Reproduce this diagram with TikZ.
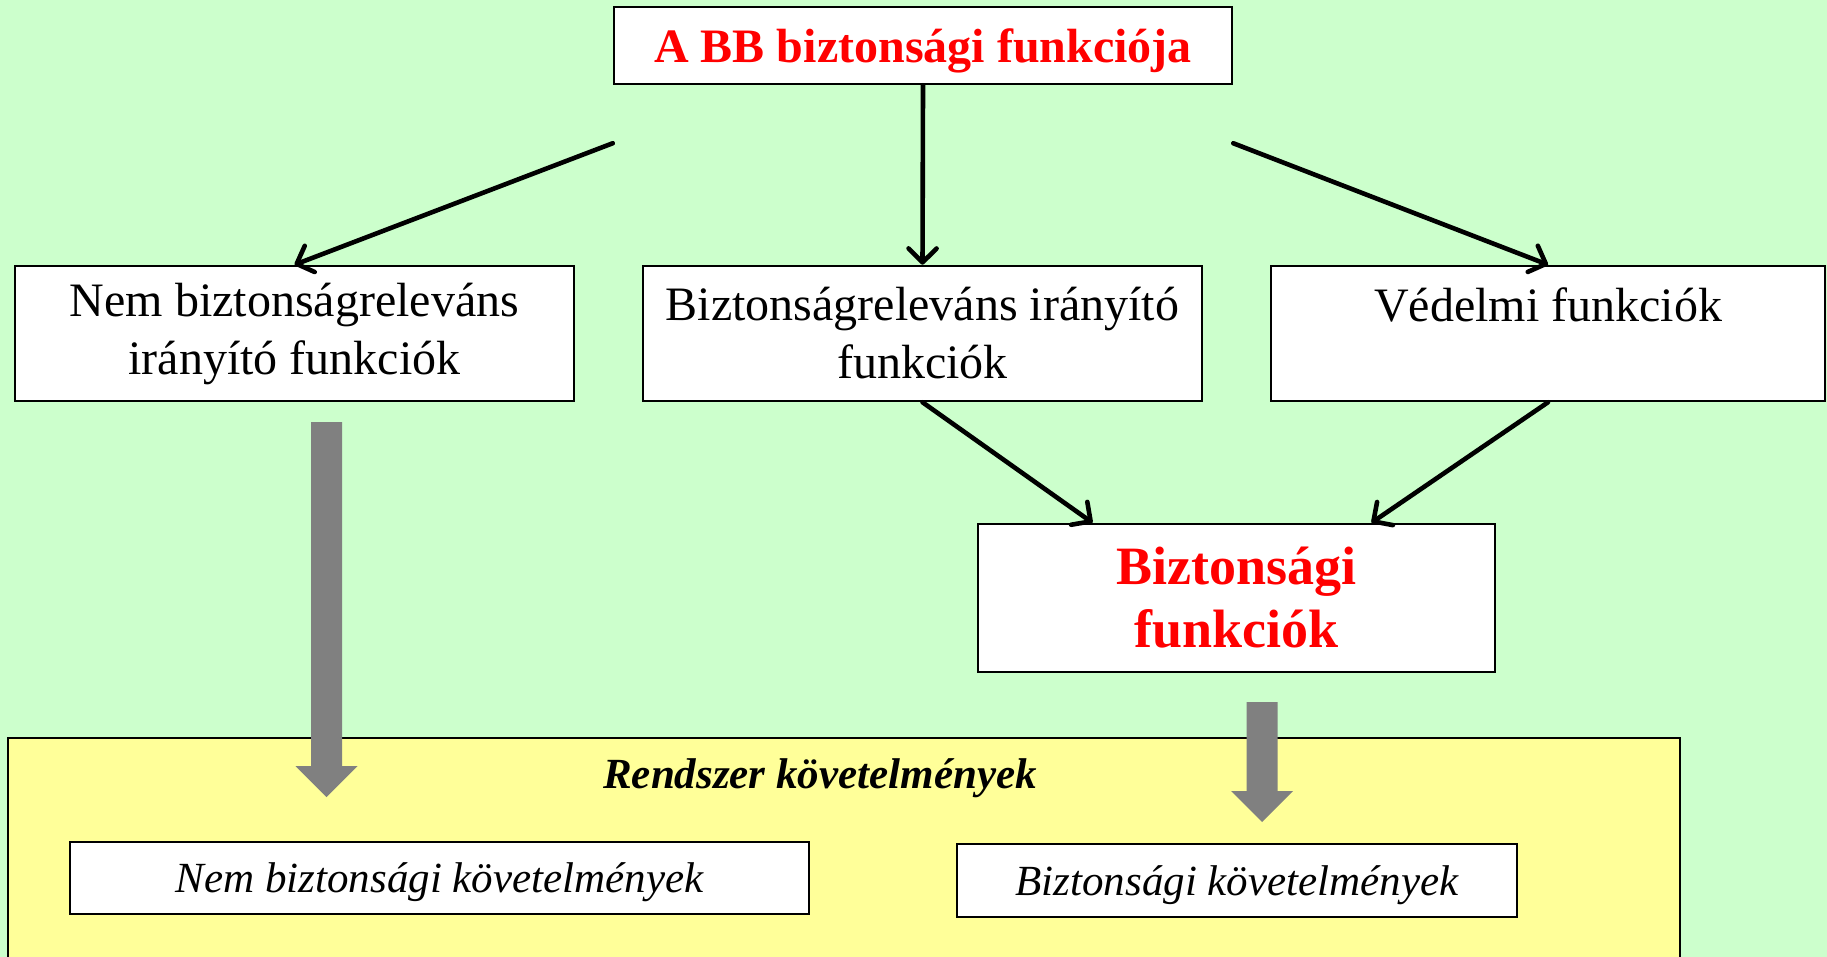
\documentclass[tikz,border=0pt]{standalone}
\usepackage{fontspec}
\setmainfont{Liberation Serif}
\usepackage{xcolor}
\usetikzlibrary{arrows.meta}

\definecolor{bggreen}{HTML}{CCFFCC}
\definecolor{reqyellow}{HTML}{FFFF99}
\definecolor{headred}{HTML}{FF0000}

\begin{document}
\begin{tikzpicture}[
    x=1pt, y=-1pt,
    >={Straight Barb[length=14pt,width=28pt,round]},
    box/.style={rectangle, draw, line width=2.5pt, fill=white, align=center, inner sep=0pt, font=\fontsize{48}{58}\selectfont},
    reqbox/.style={rectangle, draw, line width=2.5pt, fill=white, inner sep=0pt, text depth=0pt, font=\fontsize{43}{50}\selectfont\itshape},
    flow/.style={->, line width=4.6pt, line cap=round},
    bigarrow/.style={fill=gray}
]

% Hatter
\useasboundingbox (0,0) rectangle (1827,957);
\fill[bggreen] (0,0) rectangle (1827,957);

% Felso doboz
\node[box, minimum width=618pt, minimum height=77pt, text depth=0pt, text=headred, font=\fontsize{48}{58}\selectfont\bfseries] (title) at (923,45.5) {A BB biztonsági funkciója};

% Funkciok
\node[box, minimum width=559pt, minimum height=135pt] (nonsafe) at (294.5,333.5) {Nem biztonságreleváns\\irányító funkciók};
\node[box, minimum width=559pt, minimum height=135pt] (safectrl) at (922.5,333.5) {Biztonságreleváns irányító\\funkciók};
\node[box, minimum width=554pt, minimum height=135pt] (protect) at (1548,333.5) {Védelmi funkciók\\\mbox{}};

% Biztonsagi funkciok
\node[box, minimum width=517pt, minimum height=148pt, text=headred, font=\fontsize{54}{63}\selectfont\bfseries] (safefunc) at (1236.5,598) {Biztonsági\\funkciók};

% Rendszer kovetelmenyek
\node[rectangle, draw, line width=2pt, fill=reqyellow, anchor=north west, minimum width=1672pt, minimum height=250pt] (sysreq) at (7,737) {};
\node[anchor=base, font=\fontsize{43}{50}\selectfont\bfseries\itshape] (sysreqtitle) at (820,788) {Rendszer követelmények};
\node[reqbox, minimum width=739pt, minimum height=72pt] (nonsafereq) at (439.5,878) {Nem biztonsági követelmények};
\node[reqbox, minimum width=560pt, minimum height=73pt] (safereq) at (1237,880.5) {Biztonsági követelmények};

% Szurke nyilak
\foreach \x/\ytop/\ybase/\ytip in {326.5/422/766/797, 1262/702/791/822}
    \fill[bigarrow] (\x-15.5,\ytop) -- (\x+15.5,\ytop) -- (\x+15.5,\ybase) -- (\x+31,\ybase)
        -- (\x,\ytip) -- (\x-31,\ybase) -- (\x-15.5,\ybase) -- cycle;

% Kapcsolatok
\draw[flow] ([yshift=-58pt]title.south west) -- (nonsafe.north);
\draw[flow] (title.south) -- (safectrl.north);
\draw[flow] ([yshift=-58pt]title.south east) -- (protect.north);
\draw[flow] (safectrl.south) -- ([xshift=-144pt]safefunc.north);
\draw[flow] (protect.south) -- ([xshift=135pt]safefunc.north);

\end{tikzpicture}
\end{document}
